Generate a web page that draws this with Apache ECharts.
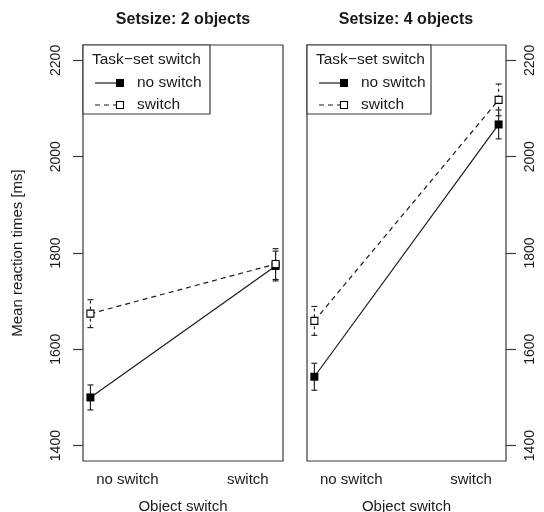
<!DOCTYPE html>
<html>
<head>
<meta charset="utf-8">
<script src="https://cdn.jsdelivr.net/npm/echarts@6/dist/echarts.min.js"></script>
<style>
html,body{margin:0;padding:0;background:#fff;}
#chart{width:544px;height:512px;}
</style>
</head>
<body>
<div id="chart"></div>
<script>
// ---- data ----
const panelTitles = ['Setsize: 2 objects', 'Setsize: 4 objects'];
const xCategories = ['no switch', 'switch'];
const yTicks = [1400, 1600, 1800, 2000, 2200];
const legendTitle = 'Task\u2212set switch';
const seriesNames = ['no switch', 'switch'];
const xAxisTitle = 'Object switch';
const yAxisTitle = 'Mean reaction times [ms]';

// Setsize 2
const noSwitch2 = [1500, 1773];
const noSwitch2Err = [26, 31];
const switch2 = [1674, 1777];
const switch2Err = [29, 32];
// Setsize 4
const noSwitch4 = [1543, 2067];
const noSwitch4Err = [28, 30];
const switch4 = [1659, 2118];
const switch4Err = [30, 33];

// ---- build ----
const FONT = 'Liberation Sans, Arial, Helvetica, sans-serif';
const INK = '#1a1a1a';
const FRAME = '#3a3a3a';

function pts(vals) { return vals.map((v, i) => [i + 1, v]); }
function errs(vals, e) { return vals.map((v, i) => [i + 1, v - e[i], v + e[i]]); }

function errRender(dashed) {
  return function (params, api) {
    const x = api.value(0), lo = api.value(1), hi = api.value(2);
    const a = api.coord([x, lo]), b = api.coord([x, hi]);
    const w = 3;
    const st = { stroke: INK, lineWidth: 1.1, lineDash: dashed ? [3, 3] : null };
    const cs = { stroke: INK, lineWidth: 1.1 };
    return {
      type: 'group',
      children: [
        { type: 'line', shape: { x1: a[0], y1: a[1], x2: b[0], y2: b[1] }, style: st },
        { type: 'line', shape: { x1: a[0] - w, y1: a[1], x2: a[0] + w, y2: a[1] }, style: cs },
        { type: 'line', shape: { x1: b[0] - w, y1: b[1], x2: b[0] + w, y2: b[1] }, style: cs }
      ]
    };
  };
}

const grids = [
  { left: 83, top: 45, width: 200, height: 416, show: true, borderColor: FRAME, borderWidth: 1.2, backgroundColor: 'transparent', outerBoundsMode: 'none', containLabel: false },
  { left: 307, top: 45, width: 199, height: 416, show: true, borderColor: FRAME, borderWidth: 1.2, backgroundColor: 'transparent', outerBoundsMode: 'none', containLabel: false }
];

function xAxis(idx) {
  return {
    type: 'value', gridIndex: idx, min: 0.96, max: 2.04,
    axisLine: { show: false }, axisTick: { show: false }, splitLine: { show: false },
    axisLabel: {
      customValues: [1.2, 1.85],
      formatter: v => (v < 1.5 ? xCategories[0] : xCategories[1]),
      color: INK, fontSize: 15, fontFamily: FONT, margin: 11
    },
    name: xAxisTitle, nameLocation: 'middle', nameGap: 38,
    nameTextStyle: { color: INK, fontSize: 15, fontFamily: FONT }
  };
}

function yAxis(idx, pos) {
  const o = {
    type: 'value', gridIndex: idx, position: pos, min: 1368, max: 2232,
    axisLine: { show: false },
    splitLine: { show: false },
    axisTick: { show: true, inside: false, length: 10, customValues: yTicks, lineStyle: { color: FRAME, width: 1.2 } },
    axisLabel: {
      customValues: yTicks, rotate: 90, color: INK, fontSize: 14, fontFamily: FONT,
      formatter: v => String(v),
      margin: pos === 'left' ? 20 : 17
    }
  };
  if (pos === 'left') {
    o.name = yAxisTitle;
    o.nameLocation = 'middle';
    o.nameGap = 58;
    o.nameRotate = 90;
    o.nameTextStyle = { color: INK, fontSize: 15, fontFamily: FONT };
  }
  return o;
}

function panelSeries(idx, ns, nsE, sw, swE) {
  return [
    {
      type: 'custom', xAxisIndex: idx, yAxisIndex: idx, data: errs(ns, nsE),
      renderItem: errRender(false), encode: { x: 0, y: [1, 2] }, z: 1, silent: true
    },
    {
      type: 'custom', xAxisIndex: idx, yAxisIndex: idx, data: errs(sw, swE),
      renderItem: errRender(true), encode: { x: 0, y: [1, 2] }, z: 1, silent: true
    },
    {
      name: seriesNames[0], type: 'line', xAxisIndex: idx, yAxisIndex: idx, data: pts(ns),
      symbol: 'rect', symbolSize: 8, showSymbol: true,
      lineStyle: { color: INK, width: 1.2, type: 'solid' },
      itemStyle: { color: '#000', borderColor: '#000', borderWidth: 0 },
      z: 3, animation: false
    },
    {
      name: seriesNames[1], type: 'line', xAxisIndex: idx, yAxisIndex: idx, data: pts(sw),
      symbol: 'rect', symbolSize: 7, showSymbol: true,
      lineStyle: { color: INK, width: 1.2, type: [5, 4] },
      itemStyle: { color: '#fff', borderColor: '#000', borderWidth: 1.1 },
      z: 4, animation: false
    }
  ];
}

function legendGraphic(left, right) {
  const top = 45, bottom = 114;
  const mx = left + 37;
  const r1 = 83, r2 = 105;
  return [
    { type: 'rect', shape: { x: left, y: top, width: right - left, height: bottom - top },
      style: { fill: '#fff', stroke: FRAME, lineWidth: 1.2 }, z: 100 },
    { type: 'text', x: left + 9, y: 60, style: { text: legendTitle, fill: INK, font: '15.5px ' + FONT, textVerticalAlign: 'middle' }, z: 101 },
    { type: 'line', shape: { x1: left + 12, y1: r1, x2: mx, y2: r1 }, style: { stroke: INK, lineWidth: 1.2 }, z: 101 },
    { type: 'rect', shape: { x: mx - 4, y: r1 - 4, width: 8, height: 8 }, style: { fill: '#000' }, z: 102 },
    { type: 'text', x: left + 54, y: r1, style: { text: seriesNames[0], fill: INK, font: '15.5px ' + FONT, textVerticalAlign: 'middle' }, z: 101 },
    { type: 'line', shape: { x1: left + 12, y1: r2, x2: mx - 4, y2: r2 }, style: { stroke: INK, lineWidth: 1.2, lineDash: [5, 4] }, z: 101 },
    { type: 'rect', shape: { x: mx - 3.5, y: r2 - 3.5, width: 7, height: 7 }, style: { fill: '#fff', stroke: '#000', lineWidth: 1.1 }, z: 102 },
    { type: 'text', x: left + 54, y: r2, style: { text: seriesNames[1], fill: INK, font: '15.5px ' + FONT, textVerticalAlign: 'middle' }, z: 101 }
  ];
}

const titleGraphics = [
  { type: 'text', x: 183, y: 20, style: { text: panelTitles[0], fill: INK, font: 'bold 16px ' + FONT, textAlign: 'center', textVerticalAlign: 'middle' } },
  { type: 'text', x: 406, y: 20, style: { text: panelTitles[1], fill: INK, font: 'bold 16px ' + FONT, textAlign: 'center', textVerticalAlign: 'middle' } }
];

const option = {
  animation: false,
  backgroundColor: '#fff',
  grid: grids,
  xAxis: [xAxis(0), xAxis(1)],
  yAxis: [yAxis(0, 'left'), yAxis(1, 'right')],
  series: [].concat(
    panelSeries(0, noSwitch2, noSwitch2Err, switch2, switch2Err),
    panelSeries(1, noSwitch4, noSwitch4Err, switch4, switch4Err)
  ),
  graphic: [].concat(titleGraphics, legendGraphic(83, 210), legendGraphic(307, 431))
};

const chart = echarts.init(document.getElementById('chart'), null, { renderer: 'canvas' });
chart.setOption(option);
</script>
</body>
</html>
